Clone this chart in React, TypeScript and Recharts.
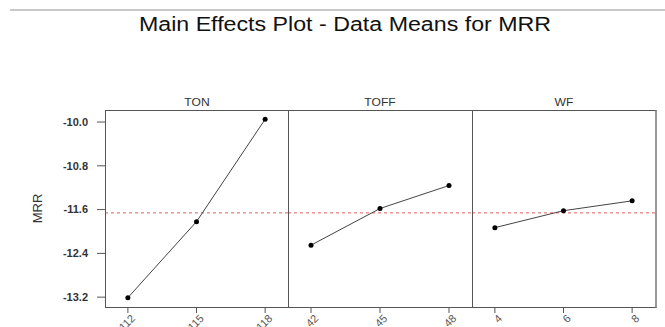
import { LineChart, Line, XAxis, YAxis, ReferenceLine } from "recharts";

const tonLevels = [112, 115, 118];
const tonMeans = [-13.21, -11.82, -9.95];
const toffLevels = [42, 45, 48];
const toffMeans = [-12.25, -11.58, -11.16];
const wfLevels = [4, 6, 8];
const wfMeans = [-11.93, -11.62, -11.44];
const grandMean = -11.66;
const yTicks = [-10.0, -10.8, -11.6, -12.4, -13.2];
const yDomain = [-13.38, -9.78];

const font = "'Liberation Sans', Arial, sans-serif";

function XTick(props: any) {
  const { x, y, payload } = props;
  const ax = x + 6;
  const ay = y + 2;
  return (
    <text
      x={ax}
      y={ay}
      transform={`rotate(-45, ${ax}, ${ay})`}
      textAnchor="end"
      dominantBaseline="middle"
      fontSize={11}
      fontFamily={font}
      fill="#555"
    >
      {payload.value}
    </text>
  );
}

function Panel({
  levels,
  means,
  pad,
  width,
  left,
  withY,
}: {
  levels: number[];
  means: number[];
  pad: number;
  width: number;
  left: number;
  withY?: boolean;
}) {
  const data = levels.map((l, i) => ({ level: l, mean: means[i] }));
  return (
    <div style={{ position: "absolute", left, top: 0 }}>
      <LineChart width={width} height={327} data={data} margin={{ top: 110, right: 0, bottom: 0, left: 0 }}>
        <XAxis
          dataKey="level"
          type="number"
          domain={[levels[0] - pad, levels[2] + pad]}
          ticks={levels}
          allowDataOverflow
          axisLine={false}
          tickLine={{ stroke: "#555" }}
          tickSize={6}
          height={20}
          tick={<XTick />}
          interval={0}
        />
        <YAxis
          type="number"
          domain={yDomain}
          ticks={yTicks}
          allowDataOverflow
          hide={!withY}
          width={105}
          axisLine={false}
          tickLine={{ stroke: "#555" }}
          tickSize={8}
          tickMargin={9}
          interval={0}
          tickFormatter={(v) => Number(v).toFixed(1)}
          tick={{ fontSize: 11, fontWeight: 700, fill: "#333", fontFamily: font }}
          label={{
            value: "MRR",
            angle: -90,
            position: "insideLeft",
            offset: 37,
            style: { textAnchor: "middle", fontSize: 13, fill: "#333", fontFamily: font },
          }}
        />
        <ReferenceLine y={grandMean} stroke="#e05a5a" strokeDasharray="3 3" strokeWidth={1} />
        <Line
          dataKey="mean"
          stroke="#444"
          strokeWidth={1}
          dot={{ r: 2.5, fill: "#000", stroke: "none" }}
          isAnimationActive={false}
        />
      </LineChart>
    </div>
  );
}

const labelStyle = {
  position: "absolute" as const,
  top: 96,
  fontSize: 11,
  fontFamily: font,
  color: "#333",
  transform: "translateX(-50%) scaleX(1.1)",
};

export default function App() {
  return (
    <div
      style={{
        position: "absolute",
        left: 0,
        top: 0,
        width: 665,
        height: 327,
        background: "#fff",
        overflow: "hidden",
        fontFamily: font,
      }}
    >
      <div style={{ position: "absolute", left: 10, right: 0, top: 9, borderTop: "2px solid #c8c8c8" }} />
      <div
        style={{
          position: "absolute",
          left: 345,
          top: 13,
          transform: "translateX(-50%) scaleX(1.16)",
          fontSize: 20,
          color: "#111",
          whiteSpace: "nowrap",
        }}
      >
        Main Effects Plot - Data Means for MRR
      </div>
      <div style={{ ...labelStyle, left: 197 }}>TON</div>
      <div style={{ ...labelStyle, left: 380 }}>TOFF</div>
      <div style={{ ...labelStyle, left: 564 }}>WF</div>

      <Panel levels={tonLevels} means={tonMeans} pad={1} width={288} left={0} withY />
      <Panel levels={toffLevels} means={toffMeans} pad={1} width={184} left={288} />
      <Panel levels={wfLevels} means={wfMeans} pad={2 / 3} width={183} left={472} />

      <div
        style={{
          position: "absolute",
          left: 105,
          top: 110,
          width: 549,
          height: 196,
          border: "1px solid #555",
          borderRight: "2px solid #999",
          pointerEvents: "none",
        }}
      />
      <div style={{ position: "absolute", left: 288, top: 110, width: 1, height: 197, background: "#555" }} />
      <div style={{ position: "absolute", left: 472, top: 110, width: 1, height: 197, background: "#555" }} />
    </div>
  );
}
